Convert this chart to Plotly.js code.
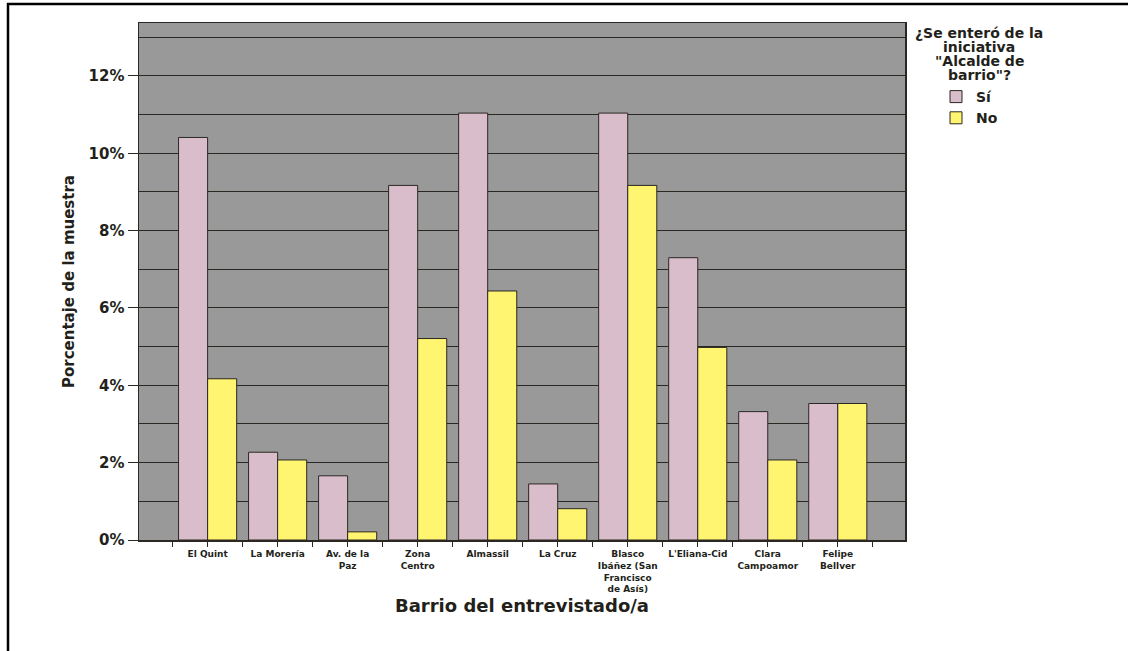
<!DOCTYPE html>
<html>
<head>
<meta charset="utf-8">
<script src="https://cdn.plot.ly/plotly-3.0.1.min.js"></script>
<style>
html,body{margin:0;padding:0;background:#fff;}
#chart{width:1128px;height:651px;}
</style>
</head>
<body>
<div id="chart"></div>
<script>
// ---- data ----
const categories = ["El Quint", "La Morería", "Av. de la<br>Paz", "Zona<br>Centro", "Almassil", "La Cruz",
  "Blasco<br>Ibáñez (San<br>Francisco<br>de Asís)", "L'Eliana-Cid", "Clara<br>Campoamor", "Felipe<br>Bellver"];
const seriesNames = ["Sí", "No"];
const siValues = [10.41, 2.27, 1.66, 9.17, 11.04, 1.45, 11.04, 7.30, 3.32, 3.53];
const noValues = [4.17, 2.07, 0.21, 5.21, 6.44, 0.81, 9.17, 4.98, 2.07, 3.53];
const yTickVals = [0, 2, 4, 6, 8, 10, 12];
const yTickText = ["0%", "2%", "4%", "6%", "8%", "10%", "12%"];
const legendTitleLines = ["¿Se enteró de la", "iniciativa", "\"Alcalde de", "barrio\"?"];
const xTitle = "Barrio del entrevistado/a";
const yTitle = "Porcentaje de la muestra";

// ---- layout helpers ----
const W = 1128, H = 651;
const M = {l: 139, r: 223, t: 23, b: 111};
const PW = W - M.l - M.r, PH = H - M.t - M.b;
const px2x = p => (p - M.l) / PW;
const px2y = p => (H - M.b - p) / PH;

const lineColor = '#2b2722';
const textColor = '#231f1a';
const pos = categories.map((c, i) => i);

const traces = [
  {type: 'bar', name: seriesNames[0], x: pos, y: siValues,
   marker: {color: '#d9bdcb', line: {color: lineColor, width: 1}}},
  {type: 'bar', name: seriesNames[1], x: pos, y: noValues,
   marker: {color: '#fff570', line: {color: lineColor, width: 1}}}
];

const annotations = legendTitleLines.map((t, i) => ({
  text: t, xref: 'paper', yref: 'paper', x: px2x(979), y: px2y(33 + i * 14),
  xanchor: 'center', yanchor: 'middle', showarrow: false,
  font: {family: 'DejaVu Sans', size: 14, weight: 'bold', color: textColor}
}));

const shapes = [
  {type: 'line', xref: 'paper', yref: 'paper', x0: px2x(8), x1: px2x(8), y0: px2y(3), y1: px2y(H),
   line: {color: '#000', width: 2.5}},
  {type: 'line', xref: 'paper', yref: 'paper', x0: px2x(7), x1: px2x(W), y0: px2y(4), y1: px2y(4),
   line: {color: '#000', width: 2.5}}
];

const layout = {
  width: W, height: H,
  margin: {l: M.l, r: M.r, t: M.t, b: M.b, autoexpand: false},
  paper_bgcolor: '#ffffff', plot_bgcolor: '#999999',
  barmode: 'group', bargap: 0.17, bargroupgap: 0,
  font: {family: 'DejaVu Sans', color: textColor},
  showlegend: true,
  legend: {x: px2x(936), y: px2y(81), xanchor: 'left', yanchor: 'top',
           bgcolor: 'rgba(0,0,0,0)', traceorder: 'normal',
           font: {family: 'DejaVu Sans', size: 14, weight: 'bold', color: textColor}},
  xaxis: {
    range: [-0.98, 9.96], tickmode: 'array', tickvals: pos, ticktext: categories, tickangle: 0,
    ticks: 'outside', ticklen: 5, tickwidth: 1, tickcolor: lineColor,
    minor: {tickmode: 'linear', tick0: 0.5, dtick: 1, ticks: 'outside', ticklen: 5, tickwidth: 1,
            tickcolor: lineColor, showgrid: false},
    showgrid: false, zeroline: false, showline: true, mirror: true, linecolor: lineColor, linewidth: 1.5,
    tickfont: {family: 'DejaVu Sans', size: 9, weight: 'bold', color: textColor},
    title: {text: xTitle, standoff: 6, font: {family: 'DejaVu Sans', size: 18, weight: 'bold', color: textColor}},
    automargin: false, fixedrange: true
  },
  yaxis: {
    range: [0, 13.37], tickmode: 'array', tickvals: yTickVals, ticktext: yTickText,
    ticks: 'outside', ticklen: 10, tickwidth: 1, tickcolor: lineColor,
    showgrid: true, gridcolor: lineColor, gridwidth: 1,
    minor: {tickmode: 'linear', tick0: 0, dtick: 1, showgrid: true, gridcolor: lineColor, gridwidth: 1, ticks: ''},
    zeroline: false, showline: true, mirror: true, linecolor: lineColor, linewidth: 1.5,
    tickfont: {family: 'DejaVu Sans', size: 15, weight: 'bold', color: textColor},
    title: {text: yTitle, standoff: 10, font: {family: 'DejaVu Sans', size: 15, weight: 'bold', color: textColor}},
    automargin: false, fixedrange: true
  },
  annotations: annotations,
  shapes: shapes
};

Plotly.newPlot('chart', traces, layout, {displayModeBar: false, staticPlot: true});
</script>
</body>
</html>
